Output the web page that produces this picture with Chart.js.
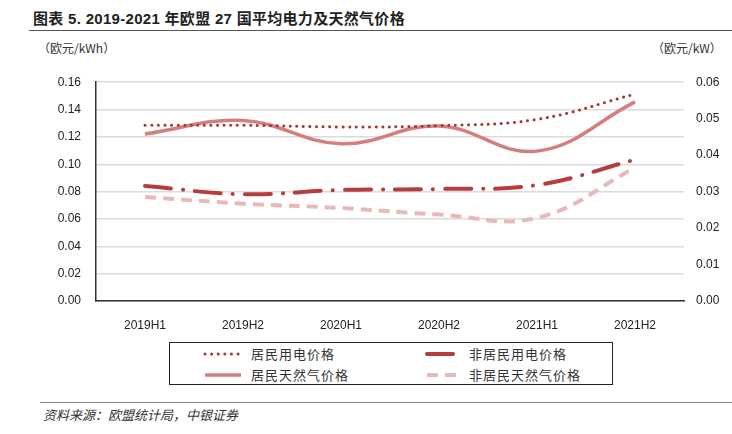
<!DOCTYPE html>
<html>
<head>
<meta charset="utf-8">
<script src="https://cdn.jsdelivr.net/npm/chart.js@4"></script>
<style>
  body { margin: 0; width: 732px; height: 434px; background: #fff; position: relative; overflow: hidden;
         font-family: "Liberation Sans", "Noto Sans CJK SC", sans-serif; color: #222; }
  .abs { position: absolute; white-space: nowrap; }
  #title { left: 33px; top: 7px; font-size: 15px; letter-spacing: 0.3px; font-weight: bold; font-family: "Liberation Sans", "Noto Sans CJK SC", sans-serif; }
  #titleLine { left: 29px; top: 30px; width: 703px; height: 0; border-top: 1.5px solid #555; }
  .unit { top: 39px; font-size: 12px; font-family: "Noto Sans CJK SC", sans-serif; color: #333; }
  #chartBox { left: 0; top: 60px; width: 732px; height: 270px; }
  #legend { left: 169px; top: 342px; width: 442px; height: 41px; border: 1px solid #222; }
  .item { position: absolute; font-size: 13px; letter-spacing: 1px; font-family: "Noto Sans CJK SC", sans-serif; color: #333; line-height: 16px; }
  .item svg { position: absolute; }
  #srcLine { left: 40px; top: 402px; width: 692px; border-top: 1.5px solid #888; }
  #source { left: 43px; top: 405px; font-size: 13px; font-style: italic; font-family: "Noto Sans CJK SC", sans-serif; color: #333; }
</style>
</head>
<body>
<div id="title" class="abs">图表 5. 2019-2021 年欧盟 27 国平均电力及天然气价格</div>
<div id="titleLine" class="abs"></div>
<div class="abs unit" style="left:38px">（欧元/kWh）</div>
<div class="abs unit" style="left:652px">（欧元/kW）</div>
<div id="chartBox" class="abs"><canvas id="priceChart"></canvas></div>
<div id="legend" class="abs"></div>
<div id="srcLine" class="abs"></div>
<div id="source" class="abs">资料来源：欧盟统计局，中银证券</div>

<script>
// periods
const periods = ['2019H1', '2019H2', '2020H1', '2020H2', '2021H1', '2021H2'];

// electricity, EUR/kWh (left axis)
const resElec = [0.1285, 0.1285, 0.1273, 0.1282, 0.1328, 0.1513];
const nonResElec = [0.0841, 0.0781, 0.0812, 0.0819, 0.0848, 0.1033];

// natural gas (right axis)
const resGas = [0.0458, 0.0495, 0.0431, 0.0480, 0.0411, 0.0546];
const nonResGas = [0.0285, 0.0267, 0.0255, 0.0237, 0.0228, 0.0365];

const leftTicks = [0, 0.02, 0.04, 0.06, 0.08, 0.10, 0.12, 0.14, 0.16];
const rightTicks = [0, 0.01, 0.02, 0.03, 0.04, 0.05, 0.06];

const seriesNames = ['居民用电价格', '非居民用电价格', '居民天然气价格', '非居民天然气价格'];

const styles = [
    { color: '#a53838', width: 3, dash: [0.1, 6.5], cap: 'round' },
    { color: '#b63d3d', width: 4, dash: [26, 12, 0.1, 12], cap: 'round' },
    { color: '#d47e7e', width: 3.5, dash: [], cap: 'butt' },
    { color: '#e7baba', width: 4, dash: [11, 7], cap: 'butt' }
];

const seriesData = [resElec, nonResElec, resGas, nonResGas];
const seriesAxis = ['y', 'y', 'y1', 'y1'];

const tickFont = { family: 'Liberation Sans', size: 12 };

new Chart(document.getElementById('priceChart'), {
    type: 'line',
    data: {
        labels: periods,
        datasets: seriesData.map((d, i) => ({
            label: seriesNames[i],
            data: d,
            yAxisID: seriesAxis[i],
            borderColor: styles[i].color,
            borderWidth: styles[i].width,
            borderDash: styles[i].dash,
            borderCapStyle: styles[i].cap,
            pointRadius: 0,
            tension: 0.4,
            fill: false
        }))
    },
    options: {
        responsive: true,
        maintainAspectRatio: false,
        animation: false,
        layout: { padding: { top: 19, left: 0, right: 0, bottom: 0 } },
        plugins: { legend: { display: false }, tooltip: { enabled: false } },
        scales: {
            x: {
                offset: true,
                grid: { display: false },
                border: { color: '#333', width: 1.5 },
                ticks: { font: tickFont, color: '#222', padding: 9, maxRotation: 0 },
                afterFit: s => { s.height = 29; }
            },
            y: {
                position: 'left',
                min: 0, max: 0.16,
                afterBuildTicks: s => { s.ticks = leftTicks.map(v => ({ value: v })); },
                grid: { color: '#dcdcdc', lineWidth: 1.5, drawTicks: false },
                border: { color: '#333', width: 1.5 },
                ticks: { font: tickFont, color: '#222', padding: 15, callback: v => v.toFixed(2) },
                afterFit: s => { s.width = 96; }
            },
            y1: {
                position: 'right',
                min: 0, max: 0.06,
                afterBuildTicks: s => { s.ticks = rightTicks.map(v => ({ value: v })); },
                grid: { display: false, drawTicks: false },
                border: { display: false },
                ticks: { font: tickFont, color: '#222', padding: 12, callback: v => v.toFixed(2) },
                afterFit: s => { s.width = 48; }
            }
        }
    }
});

// legend box
const legendPos = [
    { left: 33, top: 3, sample: 40 },
    { left: 255, top: 3, sample: 36 },
    { left: 33, top: 24, sample: 40 },
    { left: 255, top: 24, sample: 36 }
];
const legend = document.getElementById('legend');
seriesNames.forEach((name, i) => {
    const p = legendPos[i];
    const st = styles[i];
    const div = document.createElement('div');
    div.className = 'item';
    div.style.left = p.left + 'px';
    div.style.top = p.top + 'px';
    div.style.paddingLeft = (p.sample + 8) + 'px';
    const dash = st.dash.length ? st.dash.join(' ') : 'none';
    div.innerHTML = '<svg width="' + p.sample + '" height="16" style="left:0;top:0">' +
        '<line x1="2" y1="8" x2="' + (p.sample - 2) + '" y2="8" stroke="' + st.color +
        '" stroke-width="' + st.width + '" stroke-dasharray="' + dash + '" stroke-linecap="' + st.cap + '"/></svg>' + name;
    legend.appendChild(div);
});
</script>
</body>
</html>
